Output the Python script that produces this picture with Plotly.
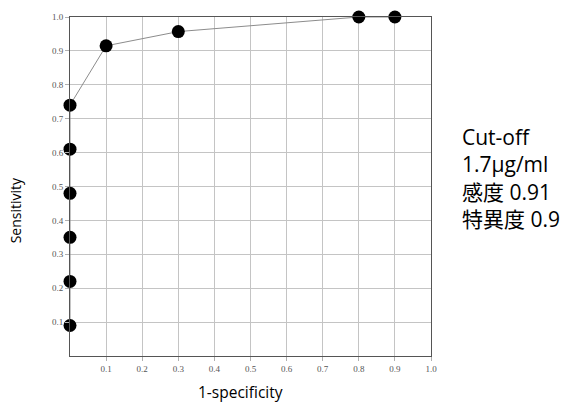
import plotly.graph_objects as go

# ROC curve points (1-specificity, sensitivity)
fpr = [0.0, 0.0, 0.0, 0.0, 0.0, 0.0, 0.1, 0.3, 0.8, 0.9]
sens = [0.09, 0.22, 0.35, 0.48, 0.61, 0.74, 0.915, 0.957, 1.0, 1.0]

tick_vals = [0.1, 0.2, 0.3, 0.4, 0.5, 0.6, 0.7, 0.8, 0.9, 1.0]
tick_text = ["0.1", "0.2", "0.3", "0.4", "0.5", "0.6", "0.7", "0.8", "0.9", "1.0"]

note_lines = ["Cut-off", "1.7μg/ml", "感度 0.91", "特異度 0.9"]

fig = go.Figure()
fig.add_trace(go.Scatter(
    x=fpr, y=sens, mode="lines+markers",
    line=dict(color="#8c8c8c", width=1),
    marker=dict(color="black", size=13),
    cliponaxis=False, showlegend=False,
))

axis_common = dict(
    range=[0, 1], tickvals=tick_vals, ticktext=tick_text,
    showgrid=True, gridcolor="#c4c4c4", gridwidth=1,
    showline=True, linecolor="#555555", linewidth=1, mirror=True,
    ticks="outside", ticklen=4, tickcolor="#b0b0b0",
    tickfont=dict(family="Liberation Serif, serif", size=9, color="#555555"),
    zeroline=False, fixedrange=True,
)

fig.update_xaxes(**axis_common)
fig.update_yaxes(**axis_common)

fig.add_annotation(text="1-specificity", xref="paper", yref="paper",
                   x=0.471, y=-0.105, xanchor="center", yanchor="middle", showarrow=False,
                   font=dict(family="Open Sans, sans-serif", size=15.5, color="black"))
fig.add_annotation(text="Sensitivity", xref="paper", yref="paper",
                   x=-0.152, y=0.43, xanchor="center", yanchor="middle", textangle=-90,
                   showarrow=False,
                   font=dict(family="Open Sans, sans-serif", size=14, color="black"))

# Cut-off note as one multi-line block to the right of the plot
fig.add_annotation(text="<br>".join(note_lines), xref="paper", yref="paper",
                   x=1.08, y=0.525, xanchor="left", yanchor="middle", align="left",
                   showarrow=False,
                   font=dict(family="Open Sans, Noto Sans CJK JP, sans-serif", size=21, color="black"))

fig.update_layout(
    width=576, height=404,
    margin=dict(l=70, r=145, t=14, b=48),
    paper_bgcolor="white", plot_bgcolor="white",
)

fig.write_html("out.html")
